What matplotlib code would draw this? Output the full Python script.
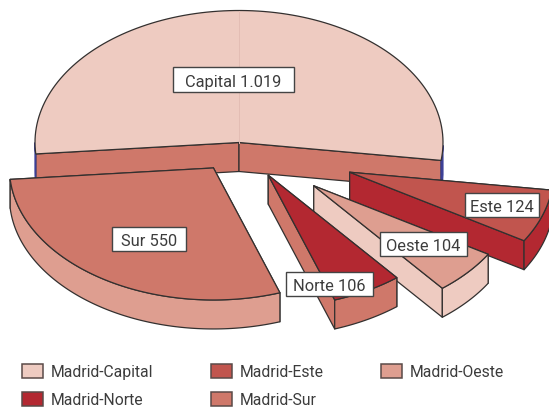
import matplotlib
matplotlib.use("Agg")
import matplotlib.pyplot as plt
import numpy as np
from matplotlib.patches import Patch, Rectangle

names = ['Madrid-Capital', 'Madrid-Este', 'Madrid-Oeste', 'Madrid-Norte', 'Madrid-Sur']
labels = ['Capital 1.019', 'Este 124', 'Oeste 104', 'Norte 106', 'Sur 550']
values = [1019, 124, 104, 106, 550]
explode = [0, 0.56, 0.47, 0.27, 0.23]
# small extra shift of each pulled out slice, pixels
nudge_x = [0, 3, 2.5, 2.5, 0]
nudge_y = [0, 5, 2.5, 1.5, 0]

top_colors = ['#EECBC1', '#C1554E', '#DE9E90', '#B32831', '#CF786A']
side_colors = ['#CF786A', '#B32831', '#EECBC1', '#CF786A', '#DE9E90']
rim_colors = ['#3b3f96', '#B32831', '#EECBC1', '#CF786A', '#DE9E90']
edge = '#33302f'

plt.rcParams['font.family'] = ['Roboto', 'DejaVu Sans']

# pie geometry, in picture pixels
cx, cy = 239, 143.5
rx, ry = 204, 132
depth = 29
start = 7.8

fig = plt.figure(figsize=(5.49, 4.10), dpi=100)
ax = fig.add_axes([0, 0, 1, 1])
ax.set_xlim(0, 549)
ax.set_ylim(410, 0)
ax.axis('off')

spans = np.array(values, dtype=float) / sum(values) * 360
# slices run clockwise on screen: Este, Oeste, Norte, Sur, then Capital over the top
order = [1, 2, 3, 4, 0]
ends = start + np.cumsum(spans[order])
angles = {}
for i, k in enumerate(order):
    angles[k] = (ends[i] - spans[k], ends[i])


def arc(a1, a2):
    t = np.radians(np.linspace(a1, a2, 120))
    return rx * np.cos(t), ry * np.sin(t)


def draw_slice(k):
    a1, a2 = angles[k]
    mid = np.radians((a1 + a2) / 2)
    ox = cx + explode[k] * rx * np.cos(mid) + nudge_x[k]
    oy = cy + explode[k] * ry * np.sin(mid) + nudge_y[k]
    x, y = arc(a1, a2)
    x = x + ox
    y = y + oy
    kw = dict(facecolor=side_colors[k], edgecolor=edge, linewidth=0.9, joinstyle='round')
    # the two cut walls first
    for j in (0, -1):
        ax.fill([ox, x[j], x[j], ox], [oy, y[j], y[j] + depth, oy + depth], **kw)
    # rim, only the part that faces us
    t = np.radians(np.linspace(a1, a2, 120))
    front = np.sin(t) >= 0
    parts = np.split(np.arange(len(t)), np.where(np.diff(front.astype(int)))[0] + 1)
    for p in parts:
        if front[p[0]]:
            rk = dict(kw)
            rk['facecolor'] = rim_colors[k]
            if k == 0:
                rk['edgecolor'] = rim_colors[k]
            ax.fill(np.r_[x[p], x[p][::-1]], np.r_[y[p], y[p][::-1] + depth], **rk)
    # top
    ax.fill(np.r_[ox, x], np.r_[oy, y], facecolor=top_colors[k], edgecolor=edge,
            linewidth=0.9, joinstyle='round')
    return ox, oy


ox, oy = draw_slice(0)
# faint seam on the big slice
ax.plot([ox, ox], [oy - ry, oy], color='#E3BDB4', lw=0.7)
for k in [1, 2, 3, 4]:
    draw_slice(k)

label_boxes = [(173, 68, 121, 25), (465, 194, 74, 24), (380, 233, 87, 24),
               (286, 273, 87, 24), (112, 228, 74, 24)]
for k, (bx, by, bw, bh) in enumerate(label_boxes):
    ax.add_patch(Rectangle((bx, by), bw, bh, facecolor='white', edgecolor='#444444',
                           linewidth=1.0, zorder=10))
    ax.text(bx + bw / 2, by + bh / 2, labels[k], fontsize=11.8, color='#3c3c3c',
            ha='center', va='center_baseline', zorder=11)

leg_order = [0, 3, 1, 4, 2]
handles = [Patch(facecolor=top_colors[i], edgecolor='#5a4a48', linewidth=1.1) for i in leg_order]
leg = ax.legend(handles, [names[i] for i in leg_order], ncol=3, frameon=False, fontsize=11.3,
                labelcolor='#3c3c3c', loc='upper left', bbox_to_anchor=(22 / 549, 1 - 365 / 410),
                borderaxespad=0, borderpad=0, handlelength=1.34, handleheight=1.0,
                handletextpad=0.5, columnspacing=3.65, labelspacing=0.8)

fig.savefig('out.png', dpi=100)
